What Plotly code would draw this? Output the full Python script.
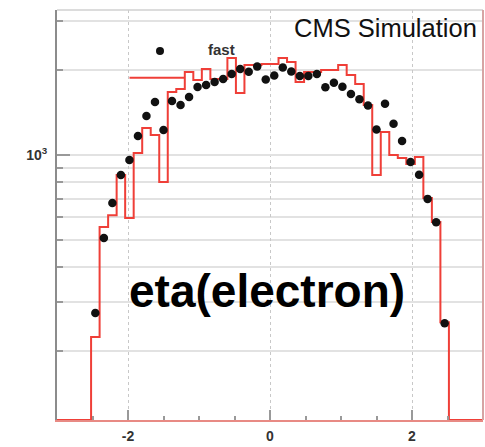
import numpy as np
import plotly.graph_objects as go

# ---------------- data ----------------
BIN_LO = -2.52          # lower edge of first bin
BIN_W = 0.12            # bin width
full_counts = [225, 554, 611, 849, 597, 1016, 1248, 1178, 801, 1676, 1718, 1974,
               1849, 2023, 1864, 1864, 2214, 1662, 2091, 2091, 2108, 2108, 2214,
               2143, 1819, 1974, 1974, 2007, 2007, 2091, 1926, 1789, 1506, 849,
               1207, 1000, 976, 929, 984, 703, 578, 254]
fast_counts = [274, 507, 675, 849, 960, 1169, 1377, 1544, 1227, 1557, 1506, 1609,
               1746, 1775, 1819, 1864, 1943, 2023, 1979, 2065, 1856, 1918, 2048,
               1983, 1910, 1910, 1943, 1742, 1808, 1750, 1649, 1579, 1500, 1232,
               1521, 1291, 1121, 944, 851, 698, 576, 252]
x_major = [-2, 0, 2]
x_major_text = ["-2", "0", "2"]
x_minor = [-2.5, -1.5, -1.0, -0.5, 0.5, 1.0, 1.5, 2.5]
y_major = [1000]
y_major_text = ["10<sup>3</sup>"]
y_minor = [200, 300, 400, 500, 600, 700, 800, 900, 2000, 3000]
X_RANGE = [-3.0, 3.0]
Y_LOG_RANGE = [2.057, 3.516]

# ---------------- derived ----------------
nb = len(full_counts)
edges = BIN_LO + BIN_W * np.arange(nb + 1)
centers = edges[:-1] + BIN_W / 2
ymin = 10 ** Y_LOG_RANGE[0]
step_x = [X_RANGE[0]] + list(edges) + [X_RANGE[1]]
step_y = [ymin] + list(full_counts) + [ymin, ymin]

W, H = 485, 447
ML, MR, MT, MB = 57, 2, 10, 27
PW, PH = W - ML - MR, H - MT - MB


def px(xp):
    return (xp - ML) / PW


def py(yp):
    return (H - MB - yp) / PH


fig = go.Figure()
fig.add_trace(go.Scatter(x=step_x, y=step_y, mode="lines", line_shape="hv",
                         line=dict(color="#ef3f38", width=2), name="full",
                         hoverinfo="skip"))
fig.add_trace(go.Scatter(x=centers, y=fast_counts, mode="markers",
                         marker=dict(color="#111111", size=8.5), name="fast"))

tickfont = dict(family="Liberation Sans", size=14, color="#333333", weight="bold")

fig.update_layout(
    width=W, height=H,
    margin=dict(l=ML, r=MR, t=MT, b=MB),
    plot_bgcolor="white", paper_bgcolor="white",
    showlegend=False,
    xaxis=dict(range=X_RANGE, tickvals=x_major, ticktext=x_major_text,
               ticks="inside", ticklen=10, tickwidth=1.5, tickcolor="#999999",
               showgrid=True, gridcolor="#c8c8c8", griddash="dot", gridwidth=1,
               showline=True, linecolor="#e88a84", linewidth=2, zeroline=False,
               tickfont=tickfont, ticklabelstandoff=2,
               minor=dict(tickvals=x_minor, ticks="inside", ticklen=4,
                          tickcolor="#999999", showgrid=False)),
    yaxis=dict(type="log", range=Y_LOG_RANGE, tickvals=y_major, ticktext=y_major_text,
               ticks="inside", ticklen=13, tickwidth=1.5, tickcolor="#999999",
               showgrid=True, gridcolor="#e2e2e2", gridwidth=1.5,
               showline=True, linecolor="#8c8c8c", linewidth=2, zeroline=False,
               tickfont=tickfont, ticklabelstandoff=5,
               minor=dict(tickvals=y_minor, ticks="inside", ticklen=6,
                          tickcolor="#999999", showgrid=True,
                          gridcolor="#e2e2e2", gridwidth=1.5)),
)

shapes = [
    # white box (legend area) hiding the grid
    dict(type="rect", xref="paper", yref="paper", x0=px(104), x1=px(251),
         y0=py(37), y1=py(11), fillcolor="white", line=dict(width=0), layer="between"),
    # top and right frame
    dict(type="line", xref="paper", yref="paper", x0=0, x1=1, y0=1, y1=1,
         line=dict(color="#d0d0d0", width=1.5)),
    dict(type="line", xref="paper", yref="paper", x0=1, x1=1, y0=0, y1=1,
         line=dict(color="#d6a4a4", width=2)),
    # legend glyphs
    dict(type="line", xref="paper", yref="paper", x0=px(129.5), x1=px(185),
         y0=py(77.7), y1=py(77.7), line=dict(color="#ef3f38", width=2)),
    dict(type="circle", xref="paper", yref="paper", x0=px(156), x1=px(164),
         y0=py(55), y1=py(47), fillcolor="#111111", line=dict(width=0)),
]
fig.update_layout(shapes=shapes)

fig.add_annotation(text="CMS Simulation", xref="paper", yref="paper",
                   x=px(479), y=py(27.5), xanchor="right", yanchor="middle",
                   showarrow=False,
                   font=dict(family="Liberation Sans", size=25.5, color="#111111"))
fig.add_annotation(text="fast", xref="paper", yref="paper",
                   x=px(221), y=py(50), xanchor="center", yanchor="middle",
                   showarrow=False,
                   font=dict(family="Liberation Sans", size=15, color="#333333",
                             weight="bold"))
fig.add_annotation(text="eta(electron)", xref="paper", yref="paper",
                   x=px(267), y=py(291), xanchor="center", yanchor="middle",
                   showarrow=False,
                   font=dict(family="Liberation Sans", size=46, color="#000000",
                             weight="bold"))

fig.write_html("out.html")
